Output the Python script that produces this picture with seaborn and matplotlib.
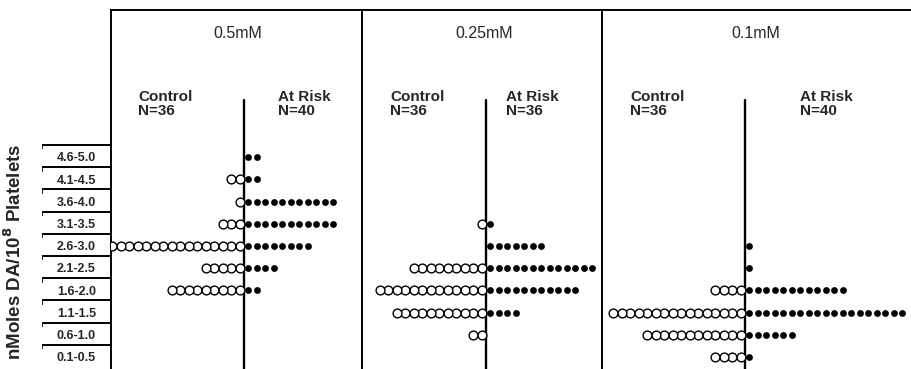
import numpy as np
import pandas as pd
import matplotlib
matplotlib.use("Agg")
import matplotlib.pyplot as plt
import seaborn as sns

# rangos de DA (de abajo hacia arriba)
bins = ['0.1-0.5', '0.6-1.0', '1.1-1.5', '1.6-2.0', '2.1-2.5',
        '2.6-3.0', '3.1-3.5', '3.6-4.0', '4.1-4.5', '4.6-5.0']

panels = ['0.5mM', '0.25mM', '0.1mM']
n_control = [36, 36, 36]
n_atrisk = [40, 36, 40]

# numero de sujetos por rango (abajo -> arriba)
control_05 = [0, 0, 0, 9, 5, 16, 3, 1, 2, 0]
atrisk_05 = [0, 0, 0, 2, 4, 8, 11, 11, 2, 2]
control_025 = [0, 2, 11, 13, 9, 0, 1, 0, 0, 0]
atrisk_025 = [0, 0, 4, 11, 13, 7, 1, 0, 0, 0]
control_01 = [4, 12, 16, 4, 0, 0, 0, 0, 0, 0]
atrisk_01 = [1, 6, 19, 12, 1, 1, 0, 0, 0, 0]

controls = [control_05, control_025, control_01]
atrisks = [atrisk_05, atrisk_025, atrisk_01]

# armar tabla larga: un punto por sujeto
rows = []
for p, (c, a) in enumerate(zip(controls, atrisks)):
    for i in range(len(bins)):
        for k in range(c[i]):
            rows.append({'panel': p, 'grupo': 'Control', 'fila': i, 'x': -(k + 0.5)})
        for k in range(a[i]):
            rows.append({'panel': p, 'grupo': 'At Risk', 'fila': i, 'x': k + 0.5})
df = pd.DataFrame(rows)

sns.set_style('white')
plt.rcParams['font.family'] = ['Liberation Sans', 'DejaVu Sans']

W, H = 912, 369
fig = plt.figure(figsize=(W / 100, H / 100), dpi=100)

# layout en pixeles
edges = [111, 362, 602, 912]
centers = [244, 486, 745]
top_px, bot_px = 10, 369
step = 8.5          # px entre puntos
row0_px, row_h = 357, 22.2
ylim = (-(bot_px - row0_px) / row_h, (row0_px - top_px) / row_h)

title_dx = [-6, -2, 11]
ctrl_dx = [-106, -96, -115]
risk_dx = [34, 20, 55]


def frac_y(px):
    return (H - px) / H


def ax_y(px):
    # fraccion vertical dentro de los paneles
    return (bot_px - px) / (bot_px - top_px)


for p in range(3):
    l, r = edges[p], edges[p + 1]
    ax = fig.add_axes([l / W, frac_y(bot_px), (r - l) / W, (bot_px - top_px) / H])
    c = centers[p]
    ax.set_xlim((l - c) / step, (r - c) / step)
    ax.set_ylim(*ylim)
    sub = df[df['panel'] == p]
    sns.scatterplot(data=sub[sub['grupo'] == 'Control'], x='x', y='fila', ax=ax,
                    s=40, facecolor='white', edgecolor='black', linewidth=1.0, zorder=3)
    sns.scatterplot(data=sub[sub['grupo'] == 'At Risk'], x='x', y='fila', ax=ax,
                    s=24, color='black', edgecolor='black', linewidth=0, zorder=4)
    ax.axvline(0, ymin=0, ymax=ax_y(100), color='black', lw=1.7, zorder=2)
    ax.set_xticks([])
    ax.set_yticks([])
    ax.set_xlabel('')
    ax.set_ylabel('')
    for s in ['left', 'top', 'right']:
        ax.spines[s].set_linewidth(1.4)
        ax.spines[s].set_color('black')
    ax.spines['bottom'].set_visible(False)
    if p == 2:
        ax.spines['right'].set_visible(False)
    tr = ax.get_xaxis_transform()
    ax.text(title_dx[p] / step, ax_y(34), panels[p], transform=tr,
            ha='center', va='center', fontsize=11.5)
    ax.text(ctrl_dx[p] / step, ax_y(104), f'Control\nN={n_control[p]}', transform=tr,
            ha='left', va='center', fontsize=11, fontweight='bold', linespacing=0.92)
    ax.text(risk_dx[p] / step, ax_y(104), f'At Risk\nN={n_atrisk[p]}', transform=tr,
            ha='left', va='center', fontsize=11, fontweight='bold', linespacing=0.92)

# columna de etiquetas de rangos
lab = fig.add_axes([42 / W, frac_y(bot_px), (edges[0] - 42) / W, (bot_px - top_px) / H])
lab.set_xlim(0, 1)
lab.set_ylim(*ylim)
lab.axis('off')
for i, b in enumerate(bins):
    lab.text(0.5, i - 0.05, b, ha='center', va='center', fontsize=9, fontweight='bold')
    lab.hlines(i + 0.55, 0, 1, color='black', lw=1.4)
    lab.vlines(0, i + 0.35, i + 0.55, color='black', lw=1.2)

fig.text(14 / W, frac_y(252), 'nMoles DA/10$^{\\mathbf{8}}$ Platelets', rotation=90,
         ha='center', va='center', fontsize=13.5, fontweight='bold')

fig.savefig('out.png', dpi=100)
